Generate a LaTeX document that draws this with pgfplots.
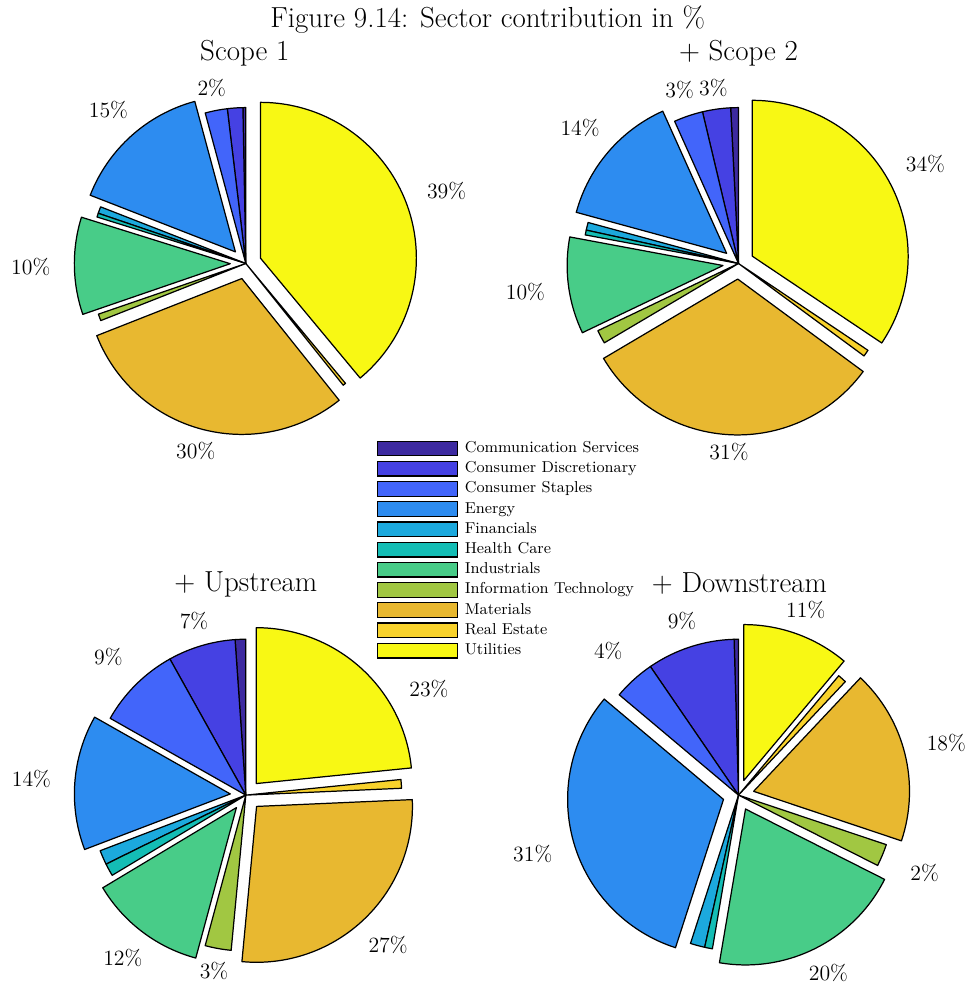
\documentclass[border=0pt]{standalone}
\usepackage{pgfplots}
\usepackage{pgfplotstable}
\pgfplotsset{compat=1.18}

% parula-like sector colours
\definecolor{c1}{HTML}{3D2AA0}
\definecolor{c2}{HTML}{4541E3}
\definecolor{c3}{HTML}{4265FA}
\definecolor{c4}{HTML}{2D8CF0}
\definecolor{c5}{HTML}{1CA9DD}
\definecolor{c6}{HTML}{14BDB5}
\definecolor{c7}{HTML}{48CC88}
\definecolor{c8}{HTML}{A1C742}
\definecolor{c9}{HTML}{E8B830}
\definecolor{c10}{HTML}{F8D22C}
\definecolor{c11}{HTML}{F8F814}

% share of each sector (%), ex = exploded slice
\pgfplotstableread{
sec sone stwo up   down ex
1   0.3  0.8  1.1  0.45 0
2   1.6  2.9  7.0  9.1  0
3   2.3  3.0  8.7  4.3  0
4   14.9 14.0 14.0 31.1 1
5   0.7  0.8  1.5  1.5  0
6   0.4  0.5  1.3  0.8  0
7   10.1 10.0 12.2 20.2 1
8   0.7  1.4  2.7  2.3  0
9   29.8 31.3 27.2 18.1 1
10  0.3  0.7  0.9  0.9  0
11  39.0 34.3 23.4 11.1 1
}\sectors

\def\R{156}      % radius in axis units
\def\Rcm{3.12cm} % same radius on paper (x=y=0.02cm)
\newcommand\lblfont{\fontsize{12.4}{14}\selectfont}
\newcommand\ttlfont{\fontsize{16.5}{19}\selectfont}

% #1 column, #2/#3 centre, #4 slice whose label sits at angle #5 (0 = none)
\newcommand\drawpie[5]{%
  \def\tot{0}%
  \pgfplotsforeachungrouped \i in {0,...,10}{%
    \pgfplotstablegetelem{\i}{#1}\of\sectors
    \pgfmathsetmacro\tot{\tot+\pgfplotsretval}}%
  \def\cum{0}%
  \pgfplotsforeachungrouped \i in {0,...,10}{%
    \pgfplotstablegetelem{\i}{#1}\of\sectors \let\val\pgfplotsretval
    \pgfplotstablegetelem{\i}{ex}\of\sectors \let\ex\pgfplotsretval
    \pgfmathsetmacro\aS{90+360*(\cum/\tot)}%
    \pgfmathsetmacro\cum{\cum+\val}%
    \pgfmathsetmacro\aE{90+360*(\cum/\tot)}%
    \pgfmathsetmacro\aM{(\aS+\aE)/2}%
    \pgfmathsetmacro\tx{#2+\ex*0.1*\R*cos(\aM)}%
    \pgfmathsetmacro\ty{#3+\ex*0.1*\R*sin(\aM)}%
    \pgfmathsetmacro\sx{\tx+\R*cos(\aS)}%
    \pgfmathsetmacro\sy{\ty+\R*sin(\aS)}%
    \pgfmathtruncatemacro\k{\i+1}%
    \edef\cmd{\noexpand\filldraw[fill=c\k, draw=black, line width=0.7pt, line join=round]
      (axis cs:\tx,\ty) -- (axis cs:\sx,\sy)
      arc[start angle=\aS, end angle=\aE, radius=\Rcm] -- cycle;}%
    \cmd
    \ifdim\val pt<2pt\else
      \ifnum\k=#4 \def\la{#5}\else\let\la\aM\fi
      \pgfmathsetmacro\dd{\R*(1.11+0.09*\ex+(0.2-0.02*\ex)*abs(cos(\la)))}%
      \pgfmathsetmacro\lx{#2+\dd*cos(\la)}%
      \pgfmathsetmacro\ly{#3+\dd*sin(\la)}%
      \pgfmathtruncatemacro\lab{round(\val)}%
      \edef\cmd{\noexpand\node[font=\noexpand\lblfont, inner sep=0pt]
        at (axis cs:\lx,\ly) {\lab\noexpand\%};}%
      \cmd
    \fi
  }}

\begin{document}
\begin{tikzpicture}
\begin{axis}[
    x=0.02cm, y=0.02cm,
    xmin=0, xmax=975, ymin=0, ymax=985,
    hide axis, clip=false,
    legend cell align=left,
    legend image code/.code={\draw[#1] (0cm,-0.147cm) rectangle (1.6cm,0.147cm);},
    legend style={at={(0.3867,0.5535)}, anchor=north west,
        draw=none, fill=none, inner sep=0pt,
        font=\fontsize{9}{10}\selectfont,
        row sep=0.086cm,
        nodes={inner sep=0pt, text height=0.23cm, text depth=0.07cm},
        /tikz/every odd column/.append style={column sep=0.13cm}},
]
\path (axis cs:0,0) rectangle (axis cs:975,985);

\addlegendimage{fill=c1, draw=black, line width=0.7pt}
\addlegendentry{Communication Services}
\addlegendimage{fill=c2, draw=black, line width=0.7pt}
\addlegendentry{Consumer Discretionary}
\addlegendimage{fill=c3, draw=black, line width=0.7pt}
\addlegendentry{Consumer Staples}
\addlegendimage{fill=c4, draw=black, line width=0.7pt}
\addlegendentry{Energy}
\addlegendimage{fill=c5, draw=black, line width=0.7pt}
\addlegendentry{Financials}
\addlegendimage{fill=c6, draw=black, line width=0.7pt}
\addlegendentry{Health Care}
\addlegendimage{fill=c7, draw=black, line width=0.7pt}
\addlegendentry{Industrials}
\addlegendimage{fill=c8, draw=black, line width=0.7pt}
\addlegendentry{Information Technology}
\addlegendimage{fill=c9, draw=black, line width=0.7pt}
\addlegendentry{Materials}
\addlegendimage{fill=c10, draw=black, line width=0.7pt}
\addlegendentry{Real Estate}
\addlegendimage{fill=c11, draw=black, line width=0.7pt}
\addlegendentry{Utilities}

\drawpie{sone}{246}{722}{0}{0}
\drawpie{stwo}{739}{722}{0}{0}
\drawpie{up}{246}{190}{11}{30}
\drawpie{down}{739}{190}{0}{0}

\node[font=\ttlfont] at (axis cs:488,966) {Figure 9.14: Sector contribution in \%};
\node[font=\ttlfont] at (axis cs:245,932) {Scope 1};
\node[font=\ttlfont] at (axis cs:739,932) {+ Scope 2};
\node[font=\ttlfont] at (axis cs:246,401) {+ Upstream};
\node[font=\ttlfont] at (axis cs:740,402) {+ Downstream};
\end{axis}
\end{tikzpicture}
\end{document}
